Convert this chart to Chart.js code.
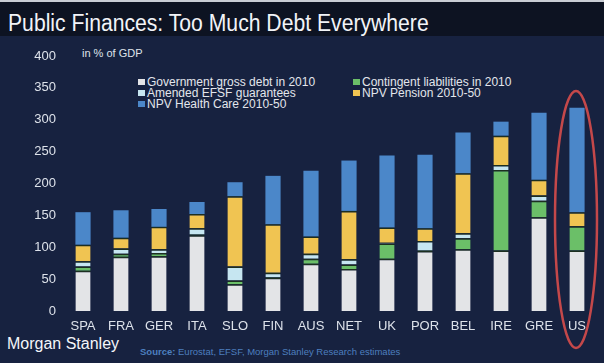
<!DOCTYPE html>
<html>
<head>
<meta charset="utf-8">
<script src="https://cdn.jsdelivr.net/npm/chart.js@4"></script>
<style>
  html, body { margin: 0; padding: 0; background: #172240; }
  #wrap { position: relative; width: 604px; height: 363px; background: #172240; overflow: hidden;
          font-family: "Liberation Sans", Arial, sans-serif; color: #e2e6ee; }
  #titlebar { position: absolute; left: 0; top: 0; width: 604px; height: 36px; background: #0d1322;
              border-top: 2px solid #c9cdd4; box-sizing: border-box; }
  #title { position: absolute; left: 8px; top: 10px; font-size: 23px; color: #f2f4f8; white-space: nowrap;
           transform: scaleX(0.92); transform-origin: left top; }
  #unit { position: absolute; left: 82px; top: 47px; font-size: 11px; color: #dfe3ea; }
  .leg { position: absolute; font-size: 12px; line-height: 11px; color: #e3e6ec; white-space: nowrap; }
  .leg i { display: inline-block; width: 7px; height: 6px; margin-right: 2px; vertical-align: 1px; }
  #ms { position: absolute; left: 7px; top: 335px; font-size: 16px; color: #f4f6fa; white-space: nowrap; }
  #src { position: absolute; left: 140px; top: 346px; font-size: 9.5px; color: #4d7fbf; white-space: nowrap; }
  canvas { position: absolute; left: 0; top: 0; }
</style>
</head>
<body>
<div id="wrap">
  <div id="titlebar"></div>
  <div id="title">Public Finances: Too Much Debt Everywhere</div>
  <div id="unit">in % of GDP</div>
  <div id="legend"></div>
  <div id="ms">Morgan Stanley</div>
  <div id="src"><b>Source:</b> Eurostat, EFSF, Morgan Stanley Research estimates</div>
  <canvas id="chart" width="604" height="363"></canvas>
</div>
<script>
const countries = ['SPA', 'FRA', 'GER', 'ITA', 'SLO', 'FIN', 'AUS', 'NET', 'UK', 'POR', 'BEL', 'IRE', 'GRE', 'US'];
const govDebt     = [63, 85, 86, 119, 42, 52, 74, 66, 82, 94, 97, 95, 147, 95];
const contingent  = [7, 5, 5, 1, 6, 1, 8, 7, 24, 1, 17, 126, 26, 38];
const efsf        = [8, 8, 6, 10, 22, 7, 8, 8, 1, 15, 8, 8, 8, 0];
const pension     = [26, 17, 35, 22, 110, 76, 27, 76, 24, 20, 94, 46, 25, 22];
const healthCare  = [51, 43, 28, 19, 22, 76, 103, 79, 113, 115, 64, 22, 105, 164];
const yTicks = [0, 50, 100, 150, 200, 250, 300, 350, 400];

const seriesNames = ['Government gross debt in 2010', 'Contingent liabilities in 2010', 'Amended EFSF guarantees',
                     'NPV Pension 2010-50', 'NPV Health Care 2010-50'];
const seriesColors = ['#e3e4e7', '#6bbf68', '#c6e6f1', '#f0c452', '#4b87c9'];

// legend laid out like the original, two columns
const legendPos = [[138, 77], [353, 77], [138, 88], [353, 88], [138, 99]];
const legendDiv = document.getElementById('legend');
seriesNames.forEach((name, i) => {
    const d = document.createElement('div');
    d.className = 'leg';
    d.style.left = legendPos[i][0] + 'px';
    d.style.top = legendPos[i][1] + 'px';
    d.innerHTML = '<i style="background:' + seriesColors[i] + '"></i>' + name;
    legendDiv.appendChild(d);
});

const allSeries = [govDebt, contingent, efsf, pension, healthCare];

const ellipsePlugin = {
    id: 'usEllipse',
    afterDraw(chart) {
        const ctx = chart.ctx;
        const x = chart.scales.x.getPixelForValue(countries.length - 1);
        const top = chart.scales.y.getPixelForValue(345);
        const bottom = chart.chartArea.bottom + 37;
        ctx.save();
        ctx.strokeStyle = '#c4484a';
        ctx.lineWidth = 2.5;
        ctx.beginPath();
        ctx.ellipse(x - 1, (top + bottom) / 2, 21, (bottom - top) / 2, 0, 0, Math.PI * 2);
        ctx.stroke();
        ctx.restore();
    }
};

new Chart(document.getElementById('chart').getContext('2d'), {
    type: 'bar',
    data: {
        labels: countries,
        datasets: allSeries.map((vals, i) => ({
            label: seriesNames[i],
            data: vals,
            backgroundColor: seriesColors[i],
            borderColor: '#1c2f20',
            borderWidth: i < 4 ? { top: 1.5 } : 0,
            borderSkipped: false,
            categoryPercentage: 1,
            barPercentage: 0.4
        }))
    },
    options: {
        responsive: false,
        animation: false,
        layout: { padding: { top: 56, right: 8, left: 0, bottom: 0 } },
        plugins: { legend: { display: false }, tooltip: { enabled: false } },
        scales: {
            x: {
                stacked: true,
                grid: { display: false, drawTicks: false },
                border: { display: false },
                ticks: { color: '#dde2ea', font: { family: 'Liberation Sans', size: 13 }, padding: 8 },
                afterFit(scale) { scale.height = 52; }
            },
            y: {
                stacked: true,
                min: 0,
                max: 400,
                grid: { display: false, drawTicks: false },
                border: { display: false },
                afterBuildTicks(scale) { scale.ticks = yTicks.map(v => ({ value: v })); },
                ticks: { color: '#dde2ea', font: { family: 'Liberation Sans', size: 13 }, padding: 8 },
                afterFit(scale) { scale.width = 64; }
            }
        }
    },
    plugins: [ellipsePlugin]
});
</script>
</body>
</html>
